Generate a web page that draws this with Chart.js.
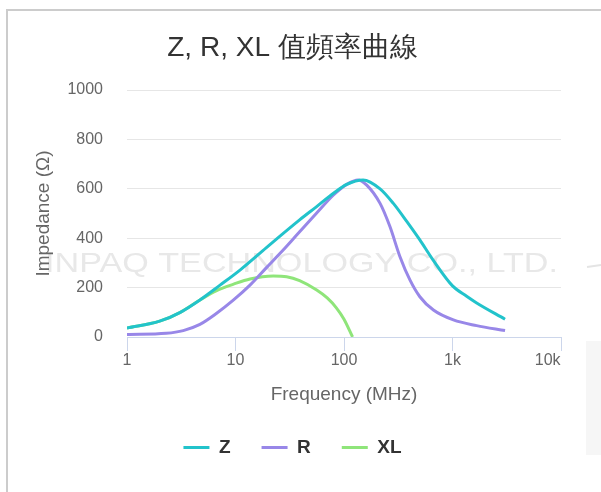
<!DOCTYPE html>
<html>
<head>
<meta charset="utf-8">
<script src="https://cdn.jsdelivr.net/npm/chart.js@4.4.1/dist/chart.umd.min.js"></script>
<style>
  html, body { margin: 0; padding: 0; background: #fff; overflow: hidden; }
  .frame {
    position: absolute; left: 6px; top: 9px; width: 640px; height: 520px;
    border-top: 2px solid #cccccc; border-left: 2px solid #cccccc;
  }
  #chart { position: absolute; left: 0; top: 0; }
</style>
</head>
<body>
<div class="frame"></div>
<canvas id="chart" width="601" height="492"></canvas>
<script>
// frequencies in MHz, impedance in ohm
const zFreq = [1, 2, 3.1, 4.7, 7.2, 11, 19.4, 39, 56, 80, 106, 150, 215, 285, 380, 500, 661, 1000, 1350, 1670, 3050];
const zVals = [36, 64, 100, 150, 210, 271, 363, 474, 528, 582, 618, 636, 600, 541, 467, 393, 312, 207, 165, 138, 72];

const rFreq = [1, 2.3, 3.3, 4.7, 6.7, 9.6, 13.6, 19.4, 27.5, 39, 56, 80, 106, 135, 162, 215, 265, 328, 405, 500, 667, 1019, 1670, 3050];
const rVals = [10, 15, 26, 51, 96, 150, 210, 282, 352, 426, 502, 575, 618, 636, 615, 541, 447, 325, 231, 163, 109, 69, 46, 26];

const xlFreq = [1, 2, 3.1, 4.7, 6.7, 9.6, 13.6, 22.3, 29.6, 39, 56, 70, 85, 100, 120];
const xlVals = [36, 64, 100, 150, 188, 214, 235, 247, 244, 228, 190, 158, 118, 72, 0];

const xTicks = [1, 10, 100, 1000, 10000];
const xTickLabels = ['1', '10', '100', '1k', '10k      '];

const WATERMARK = 'INPAQ TECHNOLOGY CO., LTD.';
const FONT = "'Liberation Sans', Arial, 'Noto Sans CJK TC', sans-serif";

const toPoints = (xs, ys) => xs.map((x, i) => ({ x: x, y: ys[i] }));

// faint company logo behind the plot
const watermark = {
  id: 'watermark',
  beforeDraw(chart) {
    const ctx = chart.ctx;
    ctx.save();
    ctx.font = '27px ' + FONT;
    ctx.fillStyle = '#e8e8e8';
    const w = ctx.measureText(WATERMARK).width;
    ctx.translate(45, 265);
    ctx.scale(513 / w, 1);
    ctx.fillText(WATERMARK, 0, 0);
    ctx.restore();

    ctx.save();
    ctx.fillStyle = '#f6f6f6';
    ctx.fillRect(586, 341, 15, 114);
    ctx.strokeStyle = '#e4e4e4';
    ctx.lineWidth = 2;
    ctx.beginPath();
    ctx.moveTo(587, 267);
    ctx.lineTo(601, 265);
    ctx.stroke();
    ctx.restore();
  }
};

const line = (label, color, xs, ys) => ({
  label: label,
  data: toPoints(xs, ys),
  borderColor: color,
  backgroundColor: color,
  borderWidth: 3,
  pointRadius: 0,
  fill: false,
  cubicInterpolationMode: 'monotone'
});

new Chart(document.getElementById('chart').getContext('2d'), {
  type: 'line',
  data: {
    datasets: [
      line('Z', '#22c3cb', zFreq, zVals),
      line('R', '#9887e8', rFreq, rVals),
      line('XL', '#8fe57a', xlFreq, xlVals)
    ]
  },
  options: {
    responsive: false,
    animation: false,
    devicePixelRatio: 1,
    layout: { padding: { top: 0, left: 24, right: 40, bottom: 25 } },
    font: { family: FONT },
    scales: {
      x: {
        type: 'logarithmic',
        min: 1,
        max: 10000,
        afterBuildTicks(scale) { scale.ticks = xTicks.map(v => ({ value: v })); },
        ticks: {
          color: '#666',
          font: { size: 16 },
          padding: 0,
          maxRotation: 0,
          autoSkip: false,
          callback: (v, i) => xTickLabels[i]
        },
        grid: { drawOnChartArea: false, color: '#ccd6eb', tickLength: 14 },
        border: { color: '#ccd6eb', width: 1 },
        title: {
          display: true,
          text: 'Frequency (MHz)',
          color: '#666',
          font: { size: 19 },
          padding: { top: 13, bottom: 1 }
        }
      },
      y: {
        min: 0,
        max: 1000,
        ticks: { stepSize: 200, color: '#666', font: { size: 16 }, padding: 24, callback: v => String(v) },
        grid: { color: '#e6e6e6', drawTicks: false },
        border: { display: false },
        title: {
          display: true,
          text: 'Impedance (Ω)',
          color: '#666',
          font: { size: 19 },
          padding: { top: 8, bottom: 0 }
        },
        afterFit(scale) { scale.width = 103; }
      }
    },
    plugins: {
      title: {
        display: true,
        text: 'Z, R, XL 值頻率曲線',
        color: '#333',
        font: { size: 28, weight: 'normal' },
        padding: { top: 31, bottom: 25.4 }
      },
      legend: {
        position: 'bottom',
        labels: {
          boxWidth: 26,
          boxHeight: 3,
          padding: 31,
          color: '#333',
          font: { size: 19, weight: 'bold' },
          generateLabels(chart) {
            return Chart.defaults.plugins.legend.labels.generateLabels(chart)
              .map(l => Object.assign(l, { lineWidth: 0, fillStyle: l.strokeStyle }));
          }
        }
      },
      tooltip: { enabled: false }
    }
  },
  plugins: [watermark]
});
</script>
</body>
</html>
